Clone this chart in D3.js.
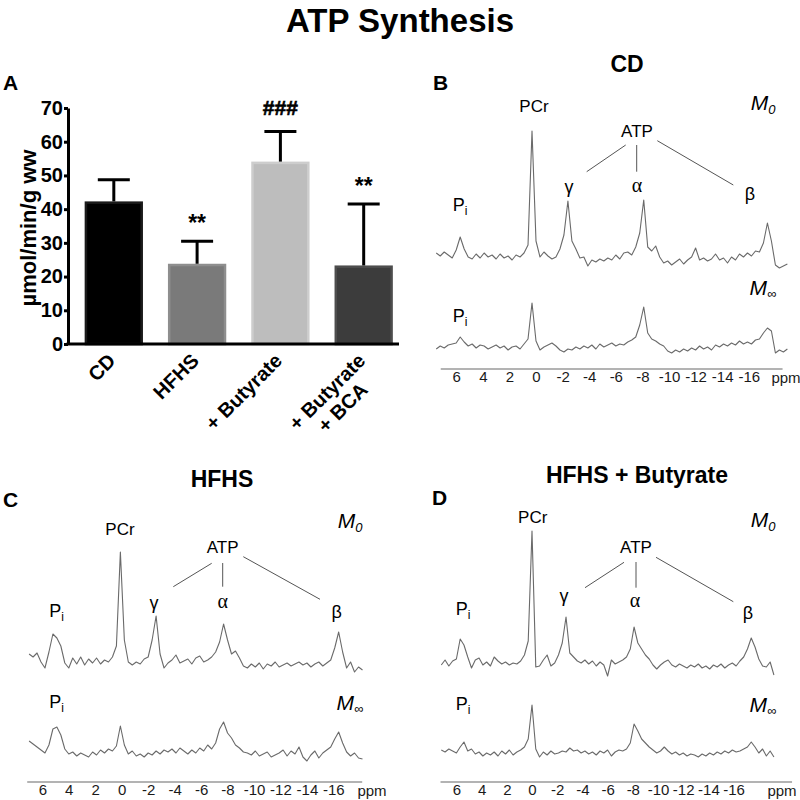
<!DOCTYPE html>
<html><head><meta charset="utf-8">
<script src="https://cdn.jsdelivr.net/npm/d3@7"></script>
<style>body{margin:0;background:#fff} svg{display:block}</style>
</head><body>
<svg id="chart" width="800" height="800"></svg>
<script>
// ---------------- DATA ----------------
const categories = [["CD"], ["HFHS"], ["+ Butyrate"], ["+ Butyrate", "+ BCA"]];
const synthesisMean = [42.3, 23.8, 54.1, 23.3];
const synthesisSem = [6.4, 6.7, 8.9, 18.2];
const significance = ["", "**", "###", "**"];
const yTicks = [0, 10, 20, 30, 40, 50, 60, 70];
const ppmTicks = [6, 4, 2, 0, -2, -4, -6, -8, -10, -12, -14, -16];
const ppmStep = 0.3;
const cdStartPpm = 7.5, hfhsStartPpm = 7.0, butStartPpm = 7.2;

const cdM0 = [2,-1,3,0,-3,5,18,6,-2,-4, 1,-3,2,-2,0,-4,1,-3,-1,-5, 0,-2,2,10,124,14,-2,3,-1,-4,
  -2,6,20,54,14,6,-3,-2,-11,-5, -7,-4,-6,-3,-5,0,-4,2,3,0, 8,22,55,8,4,9,-2,-8,-6,-10,
  -7,-4,-9,-5,-2,7,-5,-3,-6,-4, 1,-5,-3,-8,-2,-5,1,-2,2,-1, 4,3,12,32,14,-10,-13,-11,-9];
const cdMinf = [-2,1,-1,2,3,4,10,5,1,3, -1,2,1,-2,0,2,-1,1,-3,0, 1,-2,3,8,44,6,-3,0,2,4,
  1,-3,-5,-2,-3,0,-2,1,-1,2, -2,3,0,2,4,1,3,2,5,7, 10,22,40,14,8,6,3,1,-4,-6,
  -3,-5,-2,-4,-1,-3,1,-2,0,-3, 2,0,3,1,4,2,6,3,5,3, 7,8,14,19,16,-6,-3,-5,-2];
const hfhsM0 = [6,3,7,-2,-8,8,26,22,14,-3, -8,2,-4,3,-5,1,-3,2,-4,0, -2,3,14,108,20,-2,-5,-2,-4,1,
  3,20,44,6,-8,-3,0,5,-3,-1, 1,-4,2,4,-2,0,3,8,18,36, 20,6,9,2,-6,-8,-4,-7,-3,-9,
  -4,-6,-2,-7,-5,-3,-6,-4,-2,-5, -3,-7,-4,-2,-6,-3,0,12,28,8, -8,-2,-12,-7,-10];
const hfhsMinf = [12,9,6,3,0,8,24,26,18,4, -1,1,-3,0,-2,-4,1,-2,3,0, 4,2,7,27,8,-1,2,-3,-1,-4,
  0,-2,2,-1,3,1,4,0,5,2, -1,3,0,5,2,8,4,10,24,31, 20,15,8,5,1,0,-2,2,-3,-1,
  1,-4,-2,0,3,-3,2,-1,6,-4, -8,-2,2,-5,0,3,6,14,21,10, 1,-3,0,-5,-6];
const butM0 = [-2,3,-3,2,4,24,18,6,-5,3, 5,-2,1,-3,6,2,-1,1,-2,0, -1,2,8,22,132,-4,-3,3,8,-3,
  0,8,20,46,10,6,2,0,3,-1, 2,-3,1,-2,-13,3,-1,1,3,6, 14,36,20,14,8,4,-2,-6,-2,1,
  3,-2,-4,-1,-3,-5,-2,-4,-1,-5, -3,-6,-2,-4,-1,-5,-2,0,-3,2, 6,14,25,16,4,-3,-4,1,-12];
const butMinf = [3,1,4,2,0,6,11,2,4,-1, 1,-3,0,-2,1,-3,2,-1,3,-2, 1,3,6,14,48,4,-4,1,-2,2,
  -1,0,2,1,5,2,3,0,2,-1, 1,-2,2,0,3,-3,1,3,2,4, 10,29,22,14,10,6,3,0,2,6,
  2,-1,1,-2,0,-3,-1,-2,-4,-1, -3,0,-2,1,-1,2,0,3,1,2, 4,6,11,6,0,4,-3,2,-4];

// ---------------- STYLES ----------------
const SANS = "'Liberation Sans', Arial, Helvetica, sans-serif";
const SERIF = "'Liberation Serif', 'Times New Roman', serif";
const barFill = ["#000000", "#7a7a7a", "#bdbdbd", "#3c3c3c"];
const barStroke = ["#1a1a1a", "#8e8e8e", "#cdcdcd", "#4d4d4d"];
const traceColor = "#6a6a6a";

const svg = d3.select("#chart");

svg.append("text").attr("x", 400).attr("y", 32).attr("text-anchor", "middle")
  .attr("font-family", SANS).attr("font-weight", "bold").attr("font-size", 33)
  .text("ATP Synthesis");

function txt(g, x, y, s, size, opts = {}) {
  return g.append("text").attr("x", x).attr("y", y)
    .attr("text-anchor", opts.anchor || "middle")
    .attr("font-family", opts.family || SANS)
    .attr("font-weight", opts.weight || "normal")
    .attr("font-style", opts.style || "normal")
    .attr("font-size", size).attr("fill", opts.fill || "#000").text(s);
}

// ---------------- PANEL A ----------------
const gA = svg.append("g");
txt(gA, 3, 90, "A", 21, {anchor: "start", weight: "bold"});
const yA = d3.scaleLinear().domain([0, 70]).range([344, 108]);
const xA = d3.scaleBand().domain(d3.range(categories.length)).range([68, 409.5])
  .paddingInner(0.3).paddingOuter(0.2);

gA.selectAll("rect.bar").data(synthesisMean).join("rect").attr("class", "bar")
  .attr("x", (d, i) => xA(i) + 1.25).attr("width", xA.bandwidth() - 2.5)
  .attr("y", d => yA(d) + 1.25).attr("height", d => yA(0) - yA(d) - 1.25)
  .attr("fill", (d, i) => barFill[i]).attr("stroke", (d, i) => barStroke[i]).attr("stroke-width", 2.5);

synthesisMean.forEach((m, i) => {
  const cx = xA(i) + xA.bandwidth() / 2;
  const top = yA(m + synthesisSem[i]);
  gA.append("line").attr("x1", cx).attr("x2", cx).attr("y1", yA(m)).attr("y2", top)
    .attr("stroke", "#000").attr("stroke-width", 3);
  gA.append("line").attr("x1", cx - 16).attr("x2", cx + 16).attr("y1", top).attr("y2", top)
    .attr("stroke", "#000").attr("stroke-width", 3);
  if (significance[i]) {
    const isHash = significance[i].startsWith("#");
    const t = txt(gA, cx, top - (isHash ? 17 : 10), significance[i], isHash ? 21 : 23, {weight: "bold"});
    if (isHash) t.attr("stroke", "#000").attr("stroke-width", 0.6);
  }
});

const axA = gA.append("g").attr("transform", "translate(68,0)")
  .call(d3.axisLeft(yA).tickValues(yTicks).tickSize(4).tickSizeOuter(0).tickPadding(1));
axA.select(".domain").attr("stroke", "#000").attr("stroke-width", 3);
axA.selectAll(".tick line").attr("stroke", "#000").attr("stroke-width", 3);
axA.selectAll(".tick text").attr("font-family", SANS).attr("font-weight", "bold")
  .attr("font-size", 20).attr("fill", "#000");
gA.append("line").attr("x1", 66.5).attr("x2", 399).attr("y1", yA(0)).attr("y2", yA(0))
  .attr("stroke", "#000").attr("stroke-width", 3);

gA.append("text").attr("transform", "translate(36,228) rotate(-90)")
  .attr("text-anchor", "middle").attr("font-family", SANS).attr("font-weight", "bold")
  .attr("font-size", 22).text("µmol/min/g ww");

categories.forEach((lines, i) => {
  const cx = xA(i) + xA.bandwidth() / 2;
  const g = gA.append("g").attr("transform", `translate(${cx + 3},362) rotate(-45)`);
  const t1 = g.append("text").attr("text-anchor", "end").attr("font-family", SANS)
    .attr("font-weight", "bold").attr("font-size", 20).text(lines[0]);
  if (lines.length > 1) {
    const w = t1.node().getComputedTextLength();
    g.append("text").attr("x", -w / 2).attr("y", 22).attr("text-anchor", "middle")
      .attr("font-family", SANS).attr("font-weight", "bold").attr("font-size", 20).text(lines[1]);
  }
});

// ---------------- SPECTRA ----------------
const panels = [
  {title: "CD", letter: "B", m0: cdM0, minf: cdMinf, start: cdStartPpm,
   x0: 536, k: 13.3, axisY: 368.5, from: 7.2, to: -18.5, m0Base: 255, minfBase: 347, ppmX: 786,
   titleXY: [627, 72], letterXY: [433, 90], pcr: [534, 112], M0: [763, 110], atp: [637, 137],
   lines: [[625.7,145,586.7,171.7],[636.7,145,636.7,171.7],[657.3,140.7,733.3,185]],
   gam: [569, 193], alp: [637, 192], bet: [750, 200], pi: [460, 211], Minf: [763, 295], pi2: [460, 322]},
  {title: "HFHS", letter: "C", m0: hfhsM0, minf: hfhsMinf, start: hfhsStartPpm,
   x0: 121.7, k: 13.23, axisY: 781.5, from: 7.18, to: -18.14, m0Base: 660, minfBase: 753, ppmX: 372,
   titleXY: [222, 487], letterXY: [3, 507], pcr: [120, 535], M0: [350, 528], atp: [222.7, 553],
   lines: [[211.7,563.3,173.3,586.7],[222.7,563,222.7,586.7],[243.3,556.7,320,599.3]],
   gam: [154, 609], alp: [222.7, 608], bet: [336.7, 618], pi: [56.7, 617], Minf: [350, 710], pi2: [56.7, 708]},
  {title: "HFHS + Butyrate", letter: "D", m0: butM0, minf: butMinf, start: butStartPpm,
   x0: 532, k: 12.6, axisY: 781.5, from: 7.3, to: -20.6, m0Base: 663, minfBase: 753, ppmX: 782,
   titleXY: [637, 483], letterXY: [432, 505], pcr: [532.7, 523], M0: [763, 527], atp: [636, 553],
   lines: [[624,562.3,585,587.7],[636,562,636,587.7],[656,557.3,733.3,601.7]],
   gam: [564, 602], alp: [635, 607], bet: [748, 619], pi: [463, 615], Minf: [763, 712], pi2: [463, 710]}
];

function drawPi(g, x, y) {
  const t = g.append("text").attr("x", x).attr("y", y).attr("text-anchor", "middle")
    .attr("font-family", SANS).attr("font-size", 18);
  t.append("tspan").text("P");
  t.append("tspan").attr("font-size", 12).attr("dy", 4).text("i");
}
function drawM(g, x, y, sub, subSize, subDy) {
  const t = g.append("text").attr("x", x).attr("y", y).attr("text-anchor", "middle")
    .attr("font-family", SANS).attr("font-style", "italic").attr("font-size", 21);
  t.append("tspan").text("M");
  t.append("tspan").attr("font-size", subSize).attr("dy", subDy).text(sub);
}

panels.forEach(p => {
  const g = svg.append("g");
  const xs = d3.scaleLinear().domain([p.from, p.to])
    .range([p.x0 - p.k * p.from, p.x0 - p.k * p.to]);
  const ax = g.append("g").attr("transform", `translate(0,${p.axisY})`)
    .call(d3.axisBottom(xs).tickValues(ppmTicks).tickSize(0).tickSizeOuter(0).tickPadding(3)
      .tickFormat(d => String(d)));
  ax.select(".domain").attr("stroke", "#9a9a9a").attr("stroke-width", 1.5);
  ax.selectAll(".tick text").attr("font-family", SANS).attr("font-size", 15).attr("fill", "#1a1a1a");
  txt(g, p.ppmX, p.axisY + 14, "ppm", 15, {fill: "#1a1a1a"});

  [[p.m0, p.m0Base], [p.minf, p.minfBase]].forEach(([vals, base]) => {
    const ys = d3.scaleLinear().domain([0, 100]).range([base, base - 100]);
    const line = d3.line().x((d, i) => xs(p.start - i * ppmStep)).y(d => ys(d));
    g.append("path").datum(vals).attr("d", line).attr("fill", "none")
      .attr("stroke", traceColor).attr("stroke-width", 1.1).attr("stroke-linejoin", "round");
  });

  txt(g, p.titleXY[0], p.titleXY[1], p.title, 23, {weight: "bold"});
  txt(g, p.letterXY[0], p.letterXY[1], p.letter, 21, {anchor: "start", weight: "bold"});
  txt(g, p.pcr[0], p.pcr[1], "PCr", 17);
  txt(g, p.atp[0], p.atp[1], "ATP", 17);
  p.lines.forEach(l => g.append("line").attr("x1", l[0]).attr("y1", l[1]).attr("x2", l[2]).attr("y2", l[3])
    .attr("stroke", "#555").attr("stroke-width", 1));
  txt(g, p.gam[0], p.gam[1], "γ", 18);
  txt(g, p.alp[0], p.alp[1], "α", 20, {family: SERIF});
  txt(g, p.bet[0], p.bet[1], "β", 18);
  drawPi(g, p.pi[0], p.pi[1]);
  drawPi(g, p.pi2[0], p.pi2[1]);
  drawM(g, p.M0[0], p.M0[1], "0", 13, 4);
  drawM(g, p.Minf[0], p.Minf[1], "∞", 13, 3);
});
</script>
</body></html>
